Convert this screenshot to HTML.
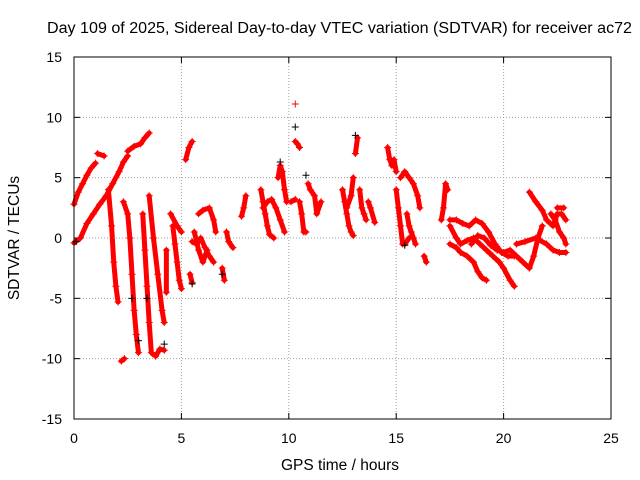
<!DOCTYPE html>
<html><head><meta charset="utf-8"><style>
body{margin:0;background:#fff}
svg{display:block;font-family:"Liberation Sans",sans-serif}
</style></head><body>
<svg id="chart" width="640" height="480" viewBox="0 0 640 480">
<rect width="640" height="480" fill="#fff"/>
<text x="47" y="33" font-size="15.5" textLength="585" lengthAdjust="spacingAndGlyphs">Day 109 of 2025, Sidereal Day-to-day VTEC variation (SDTVAR) for receiver ac72</text>
<text x="340" y="470" font-size="15.5" text-anchor="middle">GPS time / hours</text>
<text transform="translate(19,238) rotate(-90)" font-size="15.5" text-anchor="middle">SDTVAR / TECUs</text>
<g id="grid"></g><g id="ticks"></g><g id="marks"></g>
<rect x="74" y="57" width="537" height="362" fill="none" stroke="#000" stroke-width="1"/>
</svg>
<script>
const xTicks=[0,5,10,15,20,25];
const yTicks=[-15,-10,-5,0,5,10,15];
const redTracks=[
[[0,-0.4],[0.3,0],[0.6,1.2],[0.9,2],[1.2,2.8],[1.5,3.5],[1.8,4.5],[2.1,5.5],[2.3,6.3],[2.5,6.8]],
[[0,2.8],[0.2,3.8],[0.4,4.5],[0.6,5.2],[0.8,5.8],[1.0,6.2]],
[[1.1,7],[1.4,6.8]],
[[2.5,7.2],[2.8,7.6],[3.1,7.8],[3.3,8.3],[3.5,8.7]],
[[1.6,4],[1.75,1],[1.85,-2],[1.95,-4],[2.05,-5.3]],
[[2.2,-10.2],[2.35,-10]],
[[2.3,3],[2.5,2],[2.6,0],[2.7,-3],[2.8,-6],[2.9,-8],[3.0,-9.5]],
[[3.2,2],[3.3,-1],[3.4,-4],[3.5,-7],[3.6,-9.5],[3.8,-9.8],[4.0,-9.2],[4.2,-9.3]],
[[3.5,3.5],[3.7,0],[3.9,-3],[4.1,-6],[4.2,-7]],
[[4.3,-1],[4.3,-4.5]],
[[4.6,1],[4.7,-0.5],[4.8,-2],[4.9,-3.5],[5.0,-4.2]],
[[4.5,2],[4.8,1],[5.0,0.5]],
[[5.2,6.5],[5.35,7.5],[5.5,8]],
[[5.4,-3],[5.5,-3.7]],
[[5.5,-0.3],[5.7,-0.5],[5.9,0],[6.1,-0.8],[6.3,-1.5],[6.5,-2]],
[[5.8,2],[6.0,2.3],[6.3,2.5],[6.5,1.5],[6.6,0.5]],
[[5.6,0.5],[5.8,-1],[6.0,-2],[6.2,-1]],
[[6.9,-2.5],[7.0,-3.5]],
[[7.1,0.5],[7.2,-0.3],[7.4,-0.8]],
[[7.8,1.8],[7.9,2.5],[8.0,3.5]],
[[8.7,4],[8.8,3],[8.9,2],[9.0,1],[9.1,0.3],[9.3,0]],
[[8.8,2.5],[9.0,3],[9.2,3.2],[9.4,2.5],[9.6,1.5],[9.8,0.5]],
[[9.5,5],[9.6,6],[9.7,5.5],[9.8,4],[9.9,3]],
[[10.1,3],[10.3,3.2]],
[[10.3,8],[10.4,7.8],[10.5,7.5]],
[[10.3,11.1]],
[[10.5,3],[10.6,2],[10.7,0.5],[10.8,0.5]],
[[10.9,4.5],[11.0,4],[11.2,3.5],[11.3,2],[11.5,3]],
[[12.5,4],[12.6,3],[12.7,2],[12.8,1],[12.9,0.5],[13.0,0.2]],
[[12.7,2.5],[12.9,3.5],[13.0,5]],
[[13.1,7],[13.2,8.3]],
[[13.3,4],[13.4,2.5],[13.5,2],[13.6,1.5]],
[[13.7,3],[13.8,2.5],[14.0,1.3]],
[[14.6,7.5],[14.7,6.5],[14.8,6],[14.9,6.5],[15.0,5.5]],
[[15.0,4],[15.1,2.5],[15.2,1],[15.3,-0.5],[15.4,-0.5],[15.6,0]],
[[15.2,5],[15.4,5.5],[15.6,5],[15.8,4.5],[16.0,3.5],[16.1,2.5]],
[[15.5,2],[15.6,1],[15.7,0.5],[15.8,0],[15.9,-0.5]],
[[16.3,-1.5],[16.4,-2]],
[[17.1,1.5],[17.2,2.5],[17.3,4.5],[17.4,4]],
[[17.5,1],[17.8,0],[18.0,-0.5],[18.3,-0.2],[18.6,0],[18.9,-0.5],[19.2,-1],[19.5,-1.5],[19.8,-2],[20.0,-2.5],[20.3,-3.5],[20.5,-4]],
[[17.5,1.5],[17.8,1.5],[18.1,1.2],[18.4,1],[18.7,1.5],[19.0,1.2],[19.3,0.5],[19.6,-0.5],[19.9,-1.2],[20.2,-1.5],[20.5,-1.5]],
[[17.5,-0.5],[17.8,-0.8],[18.0,-1.2],[18.3,-1.5],[18.6,-2.0],[18.8,-2.8],[19.0,-3.3],[19.2,-3.5]],
[[18.5,-0.5],[18.8,0.2],[19.1,0],[19.4,-0.6],[19.7,-1],[20.0,-1.2],[20.3,-1],[20.6,-1.5],[20.9,-2],[21.2,-2.5],[21.4,-1.5],[21.6,0],[21.8,1]],
[[21.2,3.8],[21.5,3],[21.8,2.3],[22.0,1.5],[22.3,1],[22.5,2],[22.7,2],[22.9,1.5]],
[[20.6,-0.5],[21.0,-0.3],[21.5,0],[22.0,-0.5],[22.3,-1],[22.6,-1.2],[22.9,-1.2]],
[[22.2,2],[22.4,1.5],[22.6,0.5],[22.8,0],[22.9,-0.5]],
[[22.5,2.5],[22.8,2.5]]
];
const blackPoints=[[0.1,-0.3],[2.7,-5],[3.0,-8.5],[3.4,-5],[4.2,-8.8],[10.3,9.2],[10.8,5.2],[9.6,6.3],[13.1,8.5],[5.5,-3.8],[6.9,-3],[15.4,-0.6]];
const X0=74,X1=611,Y0=419,Y1=57;
const sx=v=>X0+(v-0)/25*(X1-X0);
const sy=v=>Y0-(v+15)/30*(Y0-Y1);
const NS="http://www.w3.org/2000/svg";
function mk(t,a,p){const e=document.createElementNS(NS,t);for(const k in a)e.setAttribute(k,a[k]);p.appendChild(e);return e;}
const grid=document.getElementById('grid'),ticks=document.getElementById('ticks'),marks=document.getElementById('marks');
xTicks.forEach(v=>{const x=sx(v);
 if(v>0&&v<25){const g=mk('line',{x1:x,x2:x,y1:Y1,y2:Y0,stroke:'#a0a0a0','stroke-dasharray':'1,2'},grid);
 
 }
 mk('line',{x1:x,x2:x,y1:Y0,y2:Y0-6,stroke:'#000'},ticks);mk('line',{x1:x,x2:x,y1:Y1,y2:Y1+6,stroke:'#000'},ticks);
 const t=mk('text',{x:x,y:443,'font-size':14,'text-anchor':'middle'},ticks);t.textContent=v;
 
 });
yTicks.forEach(v=>{const y=sy(v);
 if(v>-15&&v<15){const g=mk('line',{x1:X0,x2:X1,y1:y,y2:y,stroke:'#a0a0a0','stroke-dasharray':'1,2'},grid);
 
 }
 mk('line',{x1:X0,x2:X0+6,y1:y,y2:y,stroke:'#000'},ticks);mk('line',{x1:X1,x2:X1-6,y1:y,y2:y,stroke:'#000'},ticks);
 const t=mk('text',{x:62,y:y+5,'font-size':14,'text-anchor':'end'},ticks);t.textContent=v;
 
 });
function plus(x,y,c,p){const e=mk('path',{d:`M${x-3.5},${y}h7M${x},${y-3.5}v7`,stroke:c,'stroke-width':1},p);return e;}
redTracks.forEach(tr=>{
 if(tr.length>1){const pl=mk('polyline',{points:tr.map(p=>sx(p[0])+','+sy(p[1])).join(' '),fill:'none',stroke:'#ff0000','stroke-width':5,'stroke-linejoin':'round','stroke-linecap':'round'},marks);
 
 }
 tr.forEach(p=>{const m=plus(sx(p[0]),sy(p[1]),'#ff0000',marks);
 
 });
});
blackPoints.forEach(p=>{const m=plus(sx(p[0]),sy(p[1]),'#000',marks);
 
 });
</script>
</body></html>
